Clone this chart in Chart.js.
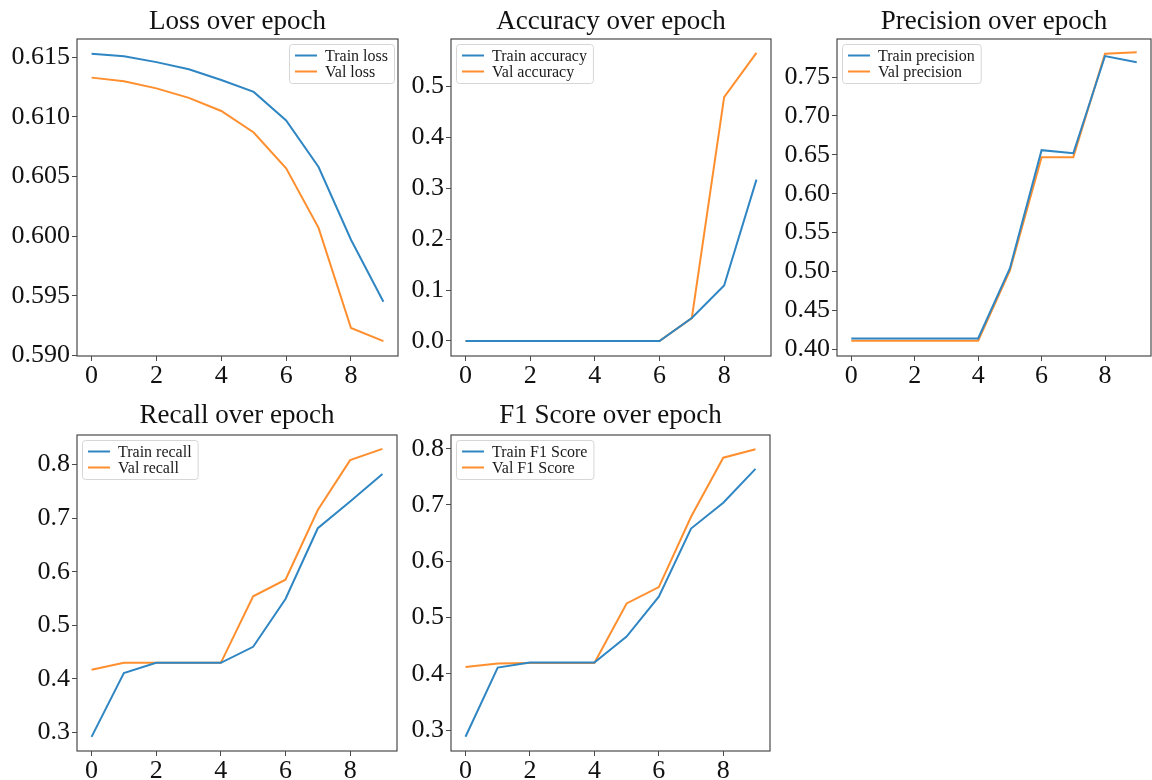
<!DOCTYPE html>
<html>
<head>
<meta charset="utf-8">
<script src="https://cdn.jsdelivr.net/npm/chart.js@4.4.1/dist/chart.umd.min.js"></script>
<style>
  html, body { margin: 0; padding: 0; background: #fff; }
  body { width: 1152px; height: 780px; position: relative; overflow: hidden; }
  canvas { position: absolute; }
</style>
</head>
<body>
<canvas id="c0"></canvas>
<canvas id="c1"></canvas>
<canvas id="c2"></canvas>
<canvas id="c3"></canvas>
<canvas id="c4"></canvas>
<script>
const epochs = [0, 1, 2, 3, 4, 5, 6, 7, 8, 9];
const xTicks = [0, 2, 4, 6, 8];

const lossTrain = [0.6153, 0.6151, 0.6146, 0.6140, 0.6131, 0.6121, 0.6097, 0.6058, 0.5997, 0.5945];
const lossVal   = [0.6133, 0.6130, 0.6124, 0.6116, 0.6105, 0.6087, 0.6057, 0.6007, 0.5923, 0.5912];
const accTrain  = [0, 0, 0, 0, 0, 0, 0, 0.045, 0.109, 0.317];
const accVal    = [0, 0, 0, 0, 0, 0, 0, 0.045, 0.479, 0.566];
const precTrain = [0.414, 0.414, 0.414, 0.414, 0.414, 0.504, 0.656, 0.652, 0.777, 0.769];
const precVal   = [0.411, 0.411, 0.411, 0.411, 0.411, 0.501, 0.647, 0.647, 0.780, 0.782];
const recTrain  = [0.292, 0.411, 0.430, 0.430, 0.430, 0.460, 0.549, 0.681, 0.731, 0.782];
const recVal    = [0.417, 0.430, 0.430, 0.430, 0.430, 0.554, 0.585, 0.715, 0.808, 0.829];
const f1Train   = [0.288, 0.411, 0.420, 0.420, 0.420, 0.466, 0.537, 0.658, 0.704, 0.764];
const f1Val     = [0.412, 0.418, 0.419, 0.419, 0.419, 0.525, 0.554, 0.679, 0.784, 0.799];

const titles = ["Loss over epoch", "Accuracy over epoch", "Precision over epoch", "Recall over epoch", "F1 Score over epoch"];
const trainLabels = ["Train loss", "Train accuracy", "Train precision", "Train recall", "Train F1 Score"];
const valLabels = ["Val loss", "Val accuracy", "Val precision", "Val recall", "Val F1 Score"];
const trainSeries = [lossTrain, accTrain, precTrain, recTrain, f1Train];
const valSeries = [lossVal, accVal, precVal, recVal, f1Val];

const yTickValues = [
  [0.590, 0.595, 0.600, 0.605, 0.610, 0.615],
  [0.0, 0.1, 0.2, 0.3, 0.4, 0.5],
  [0.40, 0.45, 0.50, 0.55, 0.60, 0.65, 0.70, 0.75],
  [0.3, 0.4, 0.5, 0.6, 0.7, 0.8],
  [0.3, 0.4, 0.5, 0.6, 0.7, 0.8]
];

// axis limits (matplotlib-style 5% margins) and layout, not data
const yLim = [[0.58995, 0.61654], [-0.0295, 0.5932], [0.3914, 0.7989], [0.2657, 0.8548], [0.2627, 0.8243]];
const yDec = [3, 1, 2, 1, 1];
// chart area boxes: left, top, right, bottom
const boxes = [[77, 39, 398, 356], [451, 39, 771, 356], [837, 39, 1151, 356], [77, 435, 397, 751], [451, 435, 770, 751]];
const legendSide = ["right", "left", "left", "left", "left"];

const BLUE = "#2f86c3";
const ORANGE = "#ff8f2e";
const SERIF = '"Liberation Serif", "Times New Roman", serif';

const framePlugin = {
  id: "frame",
  afterDatasetsDraw(chart) {
    const a = chart.chartArea, ctx = chart.ctx;
    ctx.save();
    ctx.strokeStyle = "#4a4a4a";
    ctx.lineWidth = 1.2;
    ctx.strokeRect(a.left, a.top, a.right - a.left, a.bottom - a.top);
    ctx.restore();
  }
};

const legendPlugin = {
  id: "boxLegend",
  afterDatasetsDraw(chart, args, opts) {
    const a = chart.chartArea, ctx = chart.ctx;
    ctx.save();
    ctx.font = "16px " + SERIF;
    const sets = chart.data.datasets;
    const tw = Math.max(...sets.map(d => ctx.measureText(d.label).width));
    const w = 6 + 22 + 8 + tw + 6, h = 39;
    const x = opts.side === "right" ? a.right - 4 - w : a.left + 5;
    const y = a.top + 5;
    ctx.beginPath();
    ctx.roundRect(x + 0.5, y + 0.5, w, h, 3);
    ctx.fillStyle = "rgba(255,255,255,0.8)";
    ctx.fill();
    ctx.strokeStyle = "#d6d6d6";
    ctx.lineWidth = 1;
    ctx.stroke();
    sets.forEach((d, i) => {
      const cy = y + 11.5 + i * 16;
      ctx.beginPath();
      ctx.moveTo(x + 6, cy);
      ctx.lineTo(x + 28, cy);
      ctx.strokeStyle = d.borderColor;
      ctx.lineWidth = 2;
      ctx.stroke();
      ctx.fillStyle = "#1a1a1a";
      ctx.textBaseline = "middle";
      ctx.fillText(d.label, x + 36, cy + 1);
    });
    ctx.restore();
  }
};

const titlePlugin = {
  id: "axTitle",
  afterDraw(chart, args, opts) {
    const a = chart.chartArea, ctx = chart.ctx;
    ctx.save();
    ctx.font = "27px " + SERIF;
    ctx.fillStyle = "#111";
    ctx.textAlign = "center";
    ctx.textBaseline = "alphabetic";
    ctx.fillText(opts.text, (a.left + a.right) / 2, a.top - opts.gap);
    ctx.restore();
  }
};

const Y_W = 77, X_H = 30, PAD_R = 1;

titles.forEach((title, k) => {
  const [L, T, R, B] = boxes[k];
  const padTop = k < 3 ? 39 : 45;
  const el = document.getElementById("c" + k);
  const cw = (R - L) + Y_W + PAD_R;
  const ch = (B - T) + padTop + X_H;
  el.width = cw; el.height = ch;
  el.style.left = (L - Y_W) + "px";
  el.style.top = (T - padTop) + "px";
  el.style.width = cw + "px";
  el.style.height = ch + "px";

  const toPts = vals => epochs.map((e, i) => ({ x: e, y: vals[i] }));
  const tickFont = { family: SERIF, size: 26 };

  new Chart(el, {
    type: "line",
    data: {
      datasets: [
        { label: trainLabels[k], data: toPts(trainSeries[k]), borderColor: BLUE, borderWidth: 2, pointRadius: 0, tension: 0 },
        { label: valLabels[k], data: toPts(valSeries[k]), borderColor: ORANGE, borderWidth: 2, pointRadius: 0, tension: 0 }
      ]
    },
    options: {
      responsive: false,
      animation: false,
      devicePixelRatio: 1,
      layout: { padding: { top: padTop, left: 0, right: PAD_R, bottom: 0 } },
      plugins: {
        legend: { display: false },
        title: { display: false },
        tooltip: { enabled: false },
        boxLegend: { side: legendSide[k] },
        axTitle: { text: title, gap: k < 3 ? 10 : 12 }
      },
      scales: {
        x: {
          type: "linear",
          min: -0.45,
          max: 9.45,
          afterFit: s => { s.height = X_H; },
          afterBuildTicks: s => { s.ticks = xTicks.map(v => ({ value: v })); },
          grid: { drawOnChartArea: false, drawTicks: true, tickLength: 5, color: "#4a4a4a" },
          border: { display: false },
          ticks: { font: tickFont, color: "#111", padding: 0, autoSkip: false, maxRotation: 0 }
        },
        y: {
          type: "linear",
          min: yLim[k][0],
          max: yLim[k][1],
          afterFit: s => { s.width = Y_W; },
          afterBuildTicks: s => { s.ticks = yTickValues[k].map(v => ({ value: v })); },
          grid: { drawOnChartArea: false, drawTicks: true, tickLength: 5, color: "#4a4a4a" },
          border: { display: false },
          ticks: { font: tickFont, color: "#111", padding: 2, autoSkip: false, callback: v => Number(v).toFixed(yDec[k]) }
        }
      }
    },
    plugins: [framePlugin, legendPlugin, titlePlugin]
  });
});
</script>
</body>
</html>
